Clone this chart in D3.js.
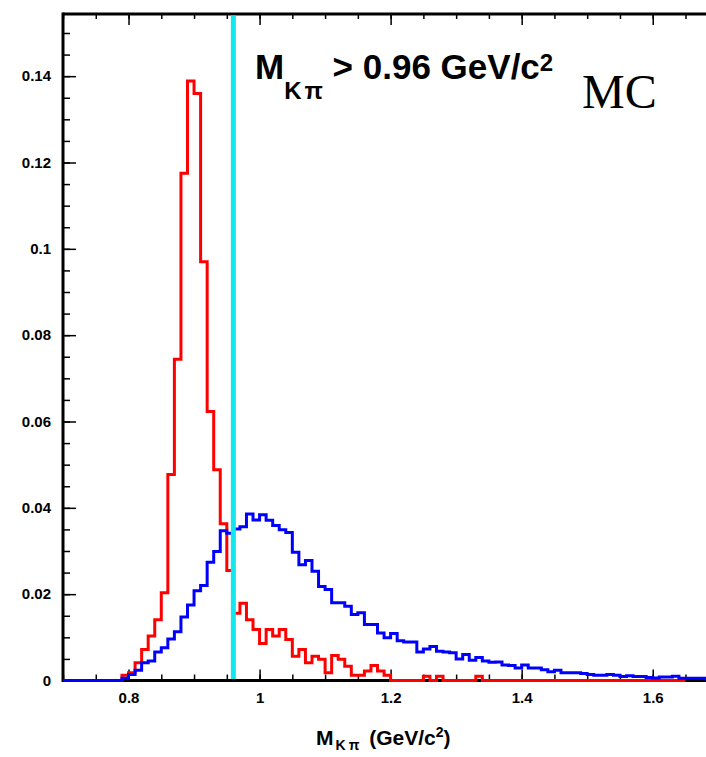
<!DOCTYPE html>
<html>
<head>
<meta charset="utf-8">
<script src="https://cdn.jsdelivr.net/npm/d3@7"></script>
<style>
  body { margin: 0; background: #fff; }
  svg { display: block; }
  .tick text { font-family: "Liberation Sans", Arial, sans-serif; font-weight: bold; font-size: 15px; fill: #000; }
</style>
</head>
<body>
<svg id="chart" width="706" height="757"></svg>
<script>
// histogram binning (GeV/c^2)
var binLow = 0.70;
var binWidth = 0.01;
var cutValue = 0.96;

// red histogram, bins from 0.70 to 1.64
var redValues = [
  0, 0, 0, 0, 0, 0, 0, 0, 0, 0.0012,
  0.0018, 0.0041, 0.0072, 0.0103, 0.0141, 0.0203, 0.0477, 0.0744, 0.1175, 0.1389,
  0.1360, 0.0970, 0.0623, 0.0488, 0.0363, 0.0255, 0.0156, 0.0179, 0.0141, 0.0118,
  0.0086, 0.0118, 0.0103, 0.0118, 0.0095, 0.0056, 0.0072, 0.0041, 0.0056, 0.0049,
  0.0018, 0.0058, 0.0049, 0.0033, 0.0012, 0.0012, 0.0022, 0.0035, 0.0022, 0.0012,
  0, 0, 0, 0, 0, 0.0010, 0, 0.0010, 0, 0,
  0, 0, 0, 0.0010, 0, 0, 0, 0, 0, 0,
  0, 0, 0, 0, 0, 0, 0, 0, 0, 0,
  0, 0, 0, 0, 0, 0, 0, 0, 0, 0,
  0, 0, 0, 0, 0
];

// blue histogram, bins from 0.70 to 1.69
var blueValues = [
  0, 0, 0, 0, 0, 0, 0, 0, 0, 0.0005,
  0.0014, 0.0024, 0.0041, 0.0045, 0.0066, 0.0076, 0.0096, 0.0113, 0.0147, 0.0175,
  0.0208, 0.0220, 0.0274, 0.0299, 0.0347, 0.0341, 0.0351, 0.0356, 0.0386, 0.0372,
  0.0384, 0.0371, 0.0359, 0.0349, 0.0343, 0.0297, 0.0268, 0.0278, 0.0253, 0.0218,
  0.0211, 0.0180, 0.0180, 0.0172, 0.0153, 0.0157, 0.0130, 0.0130, 0.0110, 0.0099,
  0.0109, 0.0092, 0.0089, 0.0089, 0.0066, 0.0073, 0.0079, 0.0068, 0.0066, 0.0064,
  0.0050, 0.0060, 0.0047, 0.0053, 0.0045, 0.0042, 0.0043, 0.0036, 0.0035, 0.0029,
  0.0036, 0.0029, 0.0029, 0.0025, 0.0020, 0.0024, 0.0018, 0.0018, 0.0018, 0.0016,
  0.0014, 0.0012, 0.0012, 0.0014, 0.0012, 0.0009, 0.0011, 0.0009, 0.0009, 0.0007,
  0.0006, 0.0008, 0.0008, 0.0010, 0.0005, 0.0005, 0.0005, 0.0005, 0.0004, 0.0004
];

var xTickValues = [0.8, 1.0, 1.2, 1.4, 1.6];
var xTickLabels = ["0.8", "1", "1.2", "1.4", "1.6"];
var yTickValues = [0, 0.02, 0.04, 0.06, 0.08, 0.10, 0.12, 0.14];
var yTickLabels = ["0", "0.02", "0.04", "0.06", "0.08", "0.1", "0.12", "0.14"];

var svg = d3.select("#chart");

var frame = { left: 63, top: 14, bottom: 680.5, right: 751 };

var x = d3.scaleLinear().domain([0.70, 1.75]).range([frame.left, frame.right]);
var y = d3.scaleLinear().domain([0, 0.1544]).range([frame.bottom, frame.top]);

var xMinor = d3.range(0.70, 1.7501, 0.05);
var yMinor = d3.range(0, 0.1541, 0.005);

// ticks point inside the frame, like ROOT
function drawAxes() {
  var g;

  g = svg.append("g").attr("transform", "translate(0," + frame.bottom + ")")
    .call(d3.axisBottom(x).tickValues(xMinor).tickSize(-6).tickFormat(""));
  g.select(".domain").remove();

  g = svg.append("g").attr("transform", "translate(0," + frame.bottom + ")")
    .call(d3.axisBottom(x).tickValues(xTickValues).tickSize(-11).tickPadding(12)
      .tickFormat(function(d, i) { return xTickLabels[i]; }));
  g.select(".domain").remove();

  g = svg.append("g").attr("transform", "translate(0," + frame.top + ")")
    .call(d3.axisTop(x).tickValues(xMinor).tickSize(-5).tickFormat(""));
  g.select(".domain").remove();

  g = svg.append("g").attr("transform", "translate(0," + frame.top + ")")
    .call(d3.axisTop(x).tickValues(xTickValues).tickSize(-11).tickFormat(""));
  g.select(".domain").remove();

  g = svg.append("g").attr("transform", "translate(" + frame.left + ",0)")
    .call(d3.axisLeft(y).tickValues(yMinor).tickSize(-7).tickFormat(""));
  g.select(".domain").remove();

  g = svg.append("g").attr("transform", "translate(" + frame.left + ",0)")
    .call(d3.axisLeft(y).tickValues(yTickValues).tickSize(-13).tickPadding(12)
      .tickFormat(function(d, i) { return yTickLabels[i]; }));
  g.select(".domain").remove();

  svg.selectAll(".tick line").attr("stroke", "#000").attr("stroke-width", 1.5);

  // frame lines
  svg.append("line")
    .attr("x1", frame.left).attr("x2", frame.right)
    .attr("y1", frame.top).attr("y2", frame.top)
    .attr("stroke", "#000").attr("stroke-width", 3);
  svg.append("line")
    .attr("x1", frame.left).attr("x2", frame.left)
    .attr("y1", frame.top - 1.5).attr("y2", frame.bottom + 1.5)
    .attr("stroke", "#000").attr("stroke-width", 3);
  svg.append("line")
    .attr("x1", frame.left).attr("x2", frame.right)
    .attr("y1", frame.bottom).attr("y2", frame.bottom)
    .attr("stroke", "#000").attr("stroke-width", 3);
}

// step outline of a histogram
function drawHist(values, color) {
  var pts = values.map(function(v, i) { return [binLow + i * binWidth, v]; });
  pts.push([binLow + values.length * binWidth, values[values.length - 1]]);

  var line = d3.line()
    .x(function(d) { return x(d[0]); })
    .y(function(d) { return y(d[1]); })
    .curve(d3.curveStepAfter);

  svg.append("path")
    .datum(pts)
    .attr("d", line)
    .attr("fill", "none")
    .attr("stroke", color)
    .attr("stroke-width", 3)
    .attr("stroke-linejoin", "miter");
}

drawAxes();
drawHist(redValues, "#ff0000");
drawHist(blueValues, "#0000ff");

// cut line
svg.append("line")
  .attr("x1", x(cutValue)).attr("x2", x(cutValue))
  .attr("y1", frame.top + 1.5).attr("y2", frame.bottom - 1.5)
  .attr("stroke", "#14e6ee").attr("stroke-width", 5);

// cut label
var label = svg.append("text")
  .attr("x", 255).attr("y", 79)
  .attr("font-family", "Liberation Sans, Arial, sans-serif")
  .attr("font-weight", "bold")
  .attr("font-size", 35);
label.append("tspan").text("M");
label.append("tspan").attr("font-size", 24).attr("dy", 20).text("K");
label.append("tspan").attr("font-size", 24).attr("dx", 3).text("\u03c0");
label.append("tspan").attr("dy", -20).text(" > 0.96 GeV/c");
label.append("tspan").attr("font-size", 24).attr("dy", -8).text("2");

svg.append("text")
  .attr("x", 582).attr("y", 108)
  .attr("font-family", "Liberation Serif, Times New Roman, serif")
  .attr("font-size", 48)
  .text("MC");

// x axis title
var title = svg.append("text")
  .attr("x", 316).attr("y", 745)
  .attr("font-family", "Liberation Sans, Arial, sans-serif")
  .attr("font-weight", "bold")
  .attr("font-size", 21);
title.append("tspan").text("M");
title.append("tspan").attr("font-size", 14).attr("dy", 5).attr("dx", 2).text("K");
title.append("tspan").attr("font-size", 14).attr("dx", 3).text("\u03c0");
title.append("tspan").attr("dy", -5).attr("dx", 4).text(" (GeV/c");
title.append("tspan").attr("font-size", 14).attr("dy", -8).text("2");
title.append("tspan").attr("dy", 8).text(")");
</script>
</body>
</html>
